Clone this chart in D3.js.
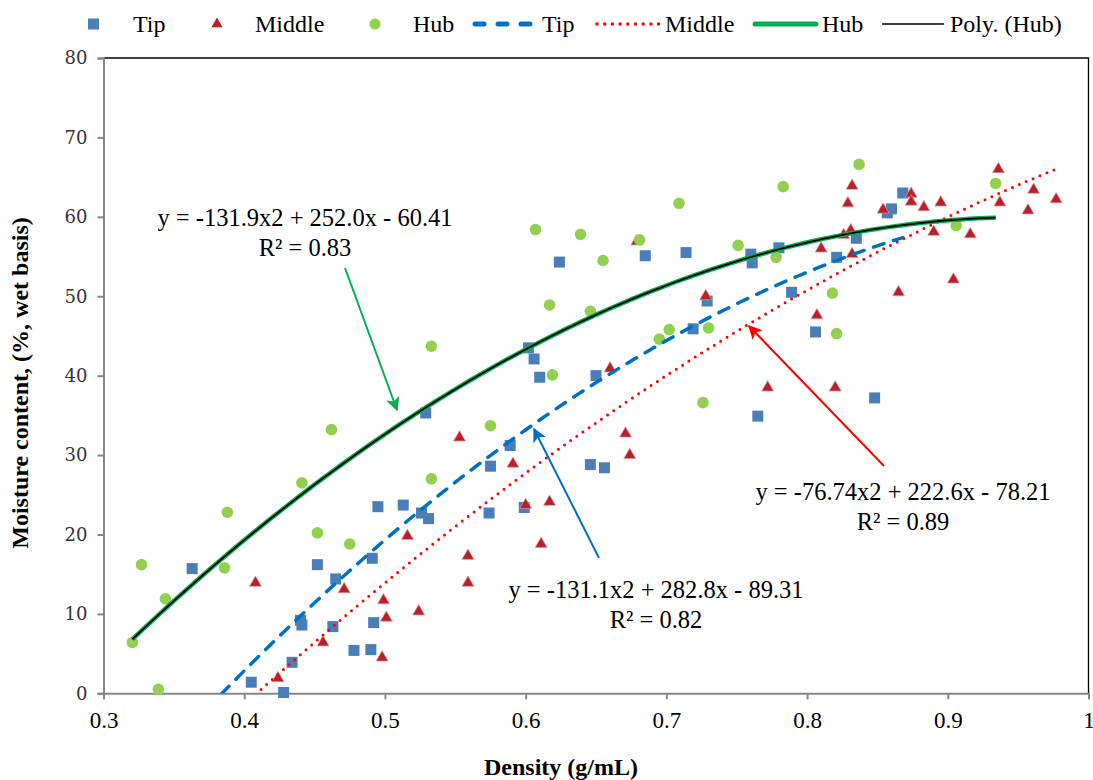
<!DOCTYPE html>
<html>
<head>
<meta charset="utf-8">
<script src="https://cdn.jsdelivr.net/npm/d3@7"></script>
<style>
body { margin: 0; background: #fff; }
text { font-family: "Liberation Serif", "Times New Roman", serif; fill: #000; }
.ytick text { font-family: "DejaVu Serif", serif; fill: #333; }
</style>
</head>
<body>
<div id="container"></div>
<script>
// Tip samples (density g/mL, moisture %)
var tipX = [0.363, 0.405, 0.428, 0.434, 0.440, 0.441, 0.452, 0.463, 0.465, 0.478, 0.490, 0.492, 0.491, 0.495,
    0.513, 0.526, 0.531, 0.529, 0.574, 0.575, 0.589, 0.599, 0.602, 0.606, 0.610, 0.624, 0.646, 0.650, 0.656,
    0.685, 0.714, 0.719, 0.729, 0.760, 0.761, 0.765, 0.780, 0.789, 0.806, 0.821, 0.835, 0.848, 0.857, 0.860, 0.868];
var tipY = [15.7, 1.4, 0.1, 3.9, 9.2, 8.6, 16.2, 8.4, 14.4, 5.4, 5.5, 8.9, 17.0, 23.5,
    23.7, 22.7, 22.0, 35.3, 22.7, 28.6, 31.2, 23.4, 43.5, 42.1, 39.8, 54.3, 28.8, 40.0, 28.4,
    55.1, 55.5, 45.9, 49.4, 55.3, 54.2, 34.9, 56.1, 50.5, 45.5, 54.9, 57.3, 37.2, 60.5, 61.0, 63.0];

// Middle samples
var midX = [0.408, 0.424, 0.456, 0.471, 0.498, 0.499, 0.501, 0.516, 0.524, 0.553, 0.559, 0.559, 0.591, 0.600,
    0.611, 0.617, 0.660, 0.671, 0.674, 0.679, 0.728, 0.772, 0.807, 0.810, 0.820, 0.826, 0.829, 0.831, 0.832,
    0.832, 0.854, 0.865, 0.874, 0.874, 0.883, 0.890, 0.895, 0.904, 0.916, 0.936, 0.937, 0.957, 0.961, 0.977];
var midY = [13.9, 1.9, 6.4, 13.1, 4.5, 11.7, 9.5, 19.8, 10.3, 32.2, 17.3, 13.9, 28.9, 23.7,
    18.8, 24.1, 40.9, 32.7, 30.0, 56.9, 50.0, 38.5, 47.6, 56.0, 38.5, 57.7, 61.7, 58.3, 63.9,
    55.3, 60.9, 50.5, 62.9, 61.9, 61.2, 58.1, 61.8, 52.1, 57.8, 66.0, 61.8, 60.8, 63.4, 62.2];

// Hub samples
var hubX = [0.3205, 0.327, 0.339, 0.344, 0.386, 0.388, 0.441, 0.452, 0.462, 0.475, 0.533, 0.533, 0.575,
    0.607, 0.617, 0.619, 0.639, 0.646, 0.655, 0.681, 0.695, 0.702, 0.709, 0.726, 0.730, 0.751, 0.778,
    0.783, 0.818, 0.821, 0.837, 0.906, 0.934];
var hubY = [6.4, 16.2, 0.5, 11.9, 15.8, 22.8, 26.5, 20.2, 33.2, 18.8, 43.7, 27.0, 33.7,
    58.4, 48.9, 40.1, 57.8, 48.1, 54.5, 57.1, 44.6, 45.8, 61.7, 36.6, 46.0, 56.4, 54.9,
    63.8, 50.4, 45.3, 66.6, 58.9, 64.2];

// polynomial trendlines: [a, b, c] for a*x^2 + b*x + c, drawn over each series' range
var tipFit = [-131.1, 282.8, -89.31];
var midFit = [-76.74, 222.6, -78.21];
var hubFit = [-131.9, 252.0, -60.41];
var tipEq = ["y = -131.1x2 + 282.8x - 89.31", "R\u00b2 = 0.82"];
var midEq = ["y = -76.74x2 + 222.6x - 78.21", "R\u00b2 = 0.89"];
var hubEq = ["y = -131.9x2 + 252.0x - 60.41", "R\u00b2 = 0.83"];

var xTicks = [0.3, 0.4, 0.5, 0.6, 0.7, 0.8, 0.9, 1];
var yTicks = [0, 10, 20, 30, 40, 50, 60, 70, 80];

var width = 1093;
var height = 780;
var pLeft = 103.5, pRight = 1088.5, pTop = 58, pBottom = 693.3;

var x = d3.scaleLinear().domain([0.3, 1]).range([pLeft, pRight]);
var y = d3.scaleLinear().domain([0, 80]).range([pBottom, pTop]);

var svg = d3.select("#container")
    .append("svg")
    .attr("width", width)
    .attr("height", height);

var defs = svg.append("defs");
defs.append("clipPath").attr("id", "plotclip")
    .append("rect")
    .attr("x", pLeft).attr("y", pTop)
    .attr("width", pRight - pLeft).attr("height", pBottom - pTop);

function addArrow(id, color) {
    defs.append("marker")
        .attr("id", id)
        .attr("viewBox", "0 0 10 10")
        .attr("refX", 9).attr("refY", 5)
        .attr("markerWidth", 7).attr("markerHeight", 7)
        .attr("markerUnits", "strokeWidth")
        .attr("orient", "auto")
        .append("path")
        .attr("d", "M0,0 L10,5 L0,10 L2.5,5 Z")
        .attr("fill", color);
}
addArrow("arrGreen", "#00b050");
addArrow("arrBlue", "#0070c0");
addArrow("arrRed", "#ff0000");

// plot border (top/right black)
svg.append("path")
    .attr("d", `M${pLeft},${pTop} H${pRight} V${pBottom}`)
    .attr("fill", "none")
    .attr("stroke", "#000")
    .attr("stroke-width", 1.3);

// axes
var yAxis = svg.append("g")
    .attr("class", "ytick")
    .attr("transform", `translate(${pLeft},0)`)
    .call(d3.axisLeft(y).tickValues(yTicks).tickSize(6).tickPadding(10));
yAxis.selectAll("text").style("font-size", "18px");

var xAxis = svg.append("g")
    .attr("transform", `translate(0,${pBottom})`)
    .call(d3.axisBottom(x).tickValues(xTicks).tickSize(6).tickPadding(12)
        .tickFormat(d => d === 1 ? "1" : d3.format(".1f")(d)));
xAxis.selectAll("text").style("font-size", "23px").attr("font-family", "Liberation Serif");

svg.selectAll(".domain, .tick line").attr("stroke", "#868686").attr("stroke-width", 2);

// axis titles
svg.append("text")
    .attr("x", 561).attr("y", 775)
    .attr("text-anchor", "middle")
    .style("font-size", "24px").style("font-weight", "bold")
    .text("Density (g/mL)");

svg.append("text")
    .attr("transform", "translate(28,383) rotate(-90)")
    .attr("text-anchor", "middle")
    .style("font-size", "24px").style("font-weight", "bold")
    .text("Moisture content, (%, wet basis)");

// markers
var plot = svg.append("g");

plot.selectAll(".tip")
    .data(d3.zip(tipX, tipY))
    .enter()
    .append("rect")
    .attr("x", d => x(d[0]) - 5.5)
    .attr("y", d => y(d[1]) - 5.5)
    .attr("width", 11).attr("height", 11)
    .attr("fill", "#4a7ebb");

var tri = d3.symbol().type(d3.symbolTriangle).size(62);
plot.selectAll(".mid")
    .data(d3.zip(midX, midY))
    .enter()
    .append("path")
    .attr("d", tri)
    .attr("transform", d => `translate(${x(d[0])},${y(d[1])})`)
    .attr("fill", "#b9202a")
    .attr("stroke", "#e39a9a")
    .attr("stroke-width", 0.7);

plot.selectAll(".hub")
    .data(d3.zip(hubX, hubY))
    .enter()
    .append("circle")
    .attr("cx", d => x(d[0]))
    .attr("cy", d => y(d[1]))
    .attr("r", 5.8)
    .attr("fill", "#92d050");

// trendlines
function fitCurve(coef, xs) {
    var lo = d3.min(xs), hi = d3.max(xs);
    return d3.range(0, 101).map(i => {
        var xv = lo + (hi - lo) * i / 100;
        return [xv, coef[0] * xv * xv + coef[1] * xv + coef[2]];
    });
}
var line = d3.line().x(d => x(d[0])).y(d => y(d[1]));
var trend = svg.append("g").attr("clip-path", "url(#plotclip)");

trend.append("path")
    .attr("d", line(fitCurve(tipFit, tipX)))
    .attr("fill", "none")
    .attr("stroke", "#0070c0")
    .attr("stroke-width", 3.5)
    .attr("stroke-linecap", "round")
    .attr("stroke-dasharray", "11,10");

trend.append("path")
    .attr("d", line(fitCurve(midFit, midX)))
    .attr("fill", "none")
    .attr("stroke", "#ff0000")
    .attr("stroke-width", 3)
    .attr("stroke-linecap", "round")
    .attr("stroke-dasharray", "0,7.5");

trend.append("path")
    .attr("d", line(fitCurve(hubFit, hubX)))
    .attr("fill", "none")
    .attr("stroke", "#00b050")
    .attr("stroke-width", 4.5);

trend.append("path")
    .attr("d", line(fitCurve(hubFit, hubX)))
    .attr("fill", "none")
    .attr("stroke", "#000")
    .attr("stroke-width", 1.8);

// equation labels and arrows
var notes = [
    {eq: hubEq, cx: 305, cy: 226, color: "#00b050", marker: "arrGreen", from: [345, 268], to: [397, 410]},
    {eq: tipEq, cx: 656, cy: 598, color: "#0070c0", marker: "arrBlue", from: [599, 558], to: [534, 429]},
    {eq: midEq, cx: 903, cy: 500, color: "#ff0000", marker: "arrRed", from: [884, 466], to: [749, 326]}
];
notes.forEach(n => {
    svg.append("line")
        .attr("x1", n.from[0]).attr("y1", n.from[1])
        .attr("x2", n.to[0]).attr("y2", n.to[1])
        .attr("stroke", n.color)
        .attr("stroke-width", 2)
        .attr("marker-end", `url(#${n.marker})`);
    n.eq.forEach((t, i) => {
        svg.append("text")
            .attr("x", n.cx).attr("y", n.cy + i * 30)
            .attr("text-anchor", "middle")
            .style("font-size", "24.5px")
            .text(t);
    });
});

// legend
var lg = svg.append("g").attr("transform", "translate(0,24)");
lg.append("rect").attr("x", 88).attr("y", -5.5).attr("width", 11).attr("height", 11).attr("fill", "#4a7ebb");
lg.append("path").attr("d", d3.symbol().type(d3.symbolTriangle).size(55))
    .attr("transform", "translate(217,0)").attr("fill", "#b9202a");
lg.append("circle").attr("cx", 375).attr("cy", 0).attr("r", 5.5).attr("fill", "#92d050");
lg.append("line").attr("x1", 475).attr("x2", 540).attr("stroke", "#0070c0")
    .attr("stroke-width", 5).attr("stroke-linecap", "round").attr("stroke-dasharray", "9,14");
lg.append("line").attr("x1", 597).attr("x2", 659).attr("stroke", "#ff0000")
    .attr("stroke-width", 3.5).attr("stroke-linecap", "round").attr("stroke-dasharray", "0,7.7");
lg.append("line").attr("x1", 755).attr("x2", 816).attr("stroke", "#00b050")
    .attr("stroke-width", 5).attr("stroke-linecap", "round");
lg.append("line").attr("x1", 882).attr("x2", 944).attr("stroke", "#000").attr("stroke-width", 1.5);

var legendLabels = [["Tip", 133], ["Middle", 255], ["Hub", 413], ["Tip", 542], ["Middle", 665], ["Hub", 822], ["Poly. (Hub)", 950]];
lg.selectAll(".lab")
    .data(legendLabels)
    .enter()
    .append("text")
    .attr("x", d => d[1])
    .attr("y", 8)
    .style("font-size", "24px")
    .text(d => d[0]);
</script>
</body>
</html>
